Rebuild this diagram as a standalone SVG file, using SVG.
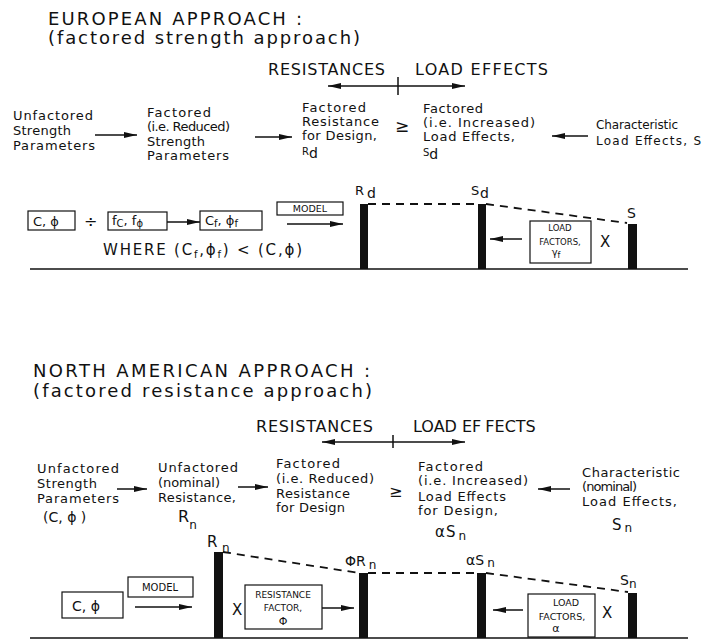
<svg xmlns="http://www.w3.org/2000/svg" width="702" height="640" viewBox="0 0 702 640">
<defs>
<marker id="ah" markerUnits="userSpaceOnUse" markerWidth="13" markerHeight="6" viewBox="0 0 13 6" refX="13" refY="3" orient="auto"><path d="M0,0 L13,3 L0,6 z" fill="#111"/></marker>
<style>
text{font-family:"DejaVu Sans","Liberation Sans",sans-serif;fill:#111}
.t{font-size:13px}
.h{font-size:18px}
.m{font-size:16px}
.s{font-size:8.5px}
.b{font-size:13px}
.ln{stroke:#111;stroke-width:1.5;fill:none}
.ar{stroke:#111;stroke-width:1.5;fill:none;marker-end:url(#ah)}
.bx{stroke:#111;stroke-width:1.2;fill:#fff}
.ds{stroke:#111;stroke-width:1.8;fill:none;stroke-dasharray:8 6}
.bar{fill:#111}
</style>
</defs>
<rect width="702" height="640" fill="#fff"/>

<!-- EUROPEAN -->
<g id="eu-title">
<text class="h" x="48" y="25" textLength="254" lengthAdjust="spacing">EUROPEAN APPROACH :</text>
<text class="h" x="48" y="44" textLength="312" lengthAdjust="spacing">(factored strength approach)</text>
</g>
<g id="eu-axis">
<text class="m" x="268" y="75" textLength="117" lengthAdjust="spacing">RESISTANCES</text>
<text class="m" x="415" y="75" textLength="133" lengthAdjust="spacing">LOAD EFFECTS</text>
</g>
<g id="eu-col1">
<text class="t" x="13" y="120" textLength="80" lengthAdjust="spacing">Unfactored</text>
<text class="t" x="13" y="135" textLength="58" lengthAdjust="spacing">Strength</text>
<text class="t" x="13" y="150" textLength="82" lengthAdjust="spacing">Parameters</text>
</g>
<g id="eu-col2">
<text class="t" x="147" y="117" textLength="64" lengthAdjust="spacing">Factored</text>
<text class="t" x="147" y="131" textLength="83" lengthAdjust="spacing">(i.e. Reduced)</text>
<text class="t" x="147" y="146" textLength="58" lengthAdjust="spacing">Strength</text>
<text class="t" x="147" y="160" textLength="82" lengthAdjust="spacing">Parameters</text>
</g>
<g id="eu-col3">
<text class="t" x="302" y="112" textLength="64" lengthAdjust="spacing">Factored</text>
<text class="t" x="302" y="126" textLength="77" lengthAdjust="spacing">Resistance</text>
<text class="t" x="302" y="140" textLength="75" lengthAdjust="spacing">for Design,</text>
<text x="302" y="155" font-size="10">R<tspan font-size="14" dy="3">d</tspan></text>
</g>
<text id="eu-ge" x="395" y="132" font-size="17">≥</text>
<g id="eu-col4">
<text class="t" x="423" y="113" textLength="60" lengthAdjust="spacing">Factored</text>
<text class="t" x="423" y="127" textLength="112" lengthAdjust="spacing">(i.e. Increased)</text>
<text class="t" x="423" y="141" textLength="92" lengthAdjust="spacing">Load Effects,</text>
<text x="423" y="156" font-size="10">S<tspan font-size="14" dy="3">d</tspan></text>
</g>
<g id="eu-col5">
<text x="596" y="129" font-size="12" textLength="82" lengthAdjust="spacing">Characteristic</text>
<text x="596" y="145" font-size="12" textLength="105" lengthAdjust="spacing">Load Effects, S</text>
</g>

<g id="eu-params">
<rect class="bx" x="28" y="211" width="47" height="19"/>
<text class="b" x="33" y="226">C, ϕ</text>
<text x="84" y="227" font-size="16">÷</text>
<rect class="bx" x="108" y="212" width="59" height="18"/>
<text class="b" x="112" y="225">f<tspan font-size="10" dy="2">C</tspan><tspan dy="-2">, f</tspan><tspan font-size="10" dy="2">ϕ</tspan></text>
<rect class="bx" x="200" y="211" width="62" height="19"/>
<text class="b" x="205" y="225">C<tspan font-size="10" dy="2">f</tspan><tspan dy="-2">, ϕ</tspan><tspan font-size="10" dy="2">f</tspan></text>
<rect class="bx" x="277" y="202" width="66" height="13"/>
<text x="310" y="212" font-size="9.5" text-anchor="middle">MODEL</text>
<text x="103" y="255" font-size="15" textLength="199" lengthAdjust="spacing">WHERE (C<tspan font-size="10" dy="3">f</tspan><tspan dy="-3">,ϕ</tspan><tspan font-size="10" dy="3">f</tspan><tspan dy="-3">) &lt; (C,ϕ)</tspan></text>
</g>
<g id="eu-bars">
<rect class="bar" x="360" y="204" width="8" height="65"/>
<rect class="bar" x="478" y="204" width="8" height="65"/>
<rect class="bar" x="628" y="224" width="9" height="45"/>
<text x="355" y="195" font-size="13">R<tspan font-size="14" x="367" y="198">d</tspan></text>
<text x="471" y="195" font-size="13">S<tspan font-size="14" x="480" y="198">d</tspan></text>
<text x="627" y="218" font-size="14">S</text>
</g>
<g id="eu-loadfactors">
<rect class="bx" x="530" y="221" width="61" height="42"/>
<text class="s" x="560" y="231" text-anchor="middle">LOAD</text>
<text class="s" x="560" y="245" text-anchor="middle">FACTORS,</text>
<text x="556" y="256" font-size="10" text-anchor="middle">γ<tspan font-size="8" dy="2">f</tspan></text>
<text x="600" y="247" font-size="15">X</text>
</g>

<!-- NORTH AMERICAN -->
<g id="na-title">
<text class="h" x="33" y="377" textLength="337" lengthAdjust="spacing">NORTH AMERICAN APPROACH :</text>
<text class="h" x="33" y="397" textLength="339" lengthAdjust="spacing">(factored resistance approach)</text>
</g>
<g id="na-axis">
<text class="m" x="256" y="432" textLength="117" lengthAdjust="spacing">RESISTANCES</text>
<text class="m" x="413" y="432">LOAD EF<tspan dx="4">FECTS</tspan></text>
</g>
<g id="na-col1">
<text class="t" x="37" y="473" textLength="82" lengthAdjust="spacing">Unfactored</text>
<text class="t" x="37" y="488" textLength="60" lengthAdjust="spacing">Strength</text>
<text class="t" x="37" y="503" textLength="82" lengthAdjust="spacing">Parameters</text>
<text x="43" y="522" font-size="14">(C, ϕ )</text>
</g>
<g id="na-col2">
<text class="t" x="158" y="472" textLength="80" lengthAdjust="spacing">Unfactored</text>
<text class="t" x="158" y="487" textLength="62" lengthAdjust="spacing">(nominal)</text>
<text class="t" x="158" y="502" textLength="78" lengthAdjust="spacing">Resistance,</text>
<text x="178" y="522" font-size="16">R<tspan font-size="12" dy="7">n</tspan></text>
</g>
<g id="na-col3">
<text class="t" x="276" y="468" textLength="64" lengthAdjust="spacing">Factored</text>
<text class="t" x="276" y="483" textLength="98" lengthAdjust="spacing">(i.e. Reduced)</text>
<text class="t" x="276" y="498" textLength="74" lengthAdjust="spacing">Resistance</text>
<text class="t" x="276" y="512" textLength="69" lengthAdjust="spacing">for Design</text>
</g>
<text id="na-ge" x="389" y="497" font-size="16">≥</text>
<g id="na-col4">
<text class="t" x="418" y="471" textLength="65" lengthAdjust="spacing">Factored</text>
<text class="t" x="418" y="485" textLength="110" lengthAdjust="spacing">(i.e. Increased)</text>
<text class="t" x="418" y="501" textLength="88" lengthAdjust="spacing">Load Effects</text>
<text class="t" x="418" y="515" textLength="80" lengthAdjust="spacing">for Design,</text>
<text x="435" y="537" font-size="15">α<tspan dx="1">S</tspan><tspan font-size="12" dx="3" dy="3">n</tspan></text>
</g>
<g id="na-col5">
<text class="t" x="582" y="477" textLength="98" lengthAdjust="spacing">Characteristic</text>
<text class="t" x="582" y="491" textLength="55" lengthAdjust="spacing">(nominal)</text>
<text class="t" x="582" y="506" textLength="95" lengthAdjust="spacing">Load Effects,</text>
<text x="612" y="530" font-size="15">S<tspan font-size="12" dx="3" dy="2">n</tspan></text>
</g>

<g id="na-params">
<rect class="bx" x="62" y="592" width="61" height="26"/>
<text x="72" y="611" font-size="14">C, ϕ</text>
<rect class="bx" x="128" y="577" width="65" height="20"/>
<text x="160" y="591" font-size="10" text-anchor="middle">MODEL</text>
</g>
<g id="na-bars">
<rect class="bar" x="214" y="552" width="9" height="86"/>
<rect class="bar" x="359" y="573" width="9" height="65"/>
<rect class="bar" x="477" y="573" width="9" height="65"/>
<rect class="bar" x="628" y="593" width="9" height="45"/>
<text x="207" y="547" font-size="15">R<tspan font-size="12" x="222" dy="5">n</tspan></text>
<text x="345" y="566" font-size="14">ΦR<tspan font-size="12" dx="3" dy="3">n</tspan></text>
<text x="466" y="565" font-size="14">αS<tspan font-size="12" dx="3" dy="2">n</tspan></text>
<text x="620" y="585" font-size="14">S<tspan font-size="12" dy="3">n</tspan></text>
</g>
<g id="na-resfactor">
<text x="232" y="615" font-size="15">X</text>
<rect class="bx" x="245" y="585" width="77" height="44"/>
<text x="283" y="598" font-size="9" text-anchor="middle">RESISTANCE</text>
<text x="283" y="611" font-size="9" text-anchor="middle">FACTOR,</text>
<text x="283" y="625" font-size="11" text-anchor="middle">Φ</text>
</g>
<g id="na-loadfactors">
<rect class="bx" x="528" y="594" width="67" height="43"/>
<text x="566" y="606" font-size="9.5" text-anchor="middle">LOAD</text>
<text x="562" y="620" font-size="9.5" text-anchor="middle">FACTORS,</text>
<text x="556" y="632" font-size="11" text-anchor="middle">α</text>
<text x="602" y="618" font-size="15">X</text>
</g>

<g id="connectors">
<path class="ar" d="M398,86 H328"/>
<path class="ar" d="M398,86 H465"/>
<path class="ln" d="M398,77 V95"/>
<path class="ar" d="M95,135 H137"/>
<path class="ar" d="M255,137 H292"/>
<path class="ar" d="M588,136 H552"/>
<path class="ar" d="M167,222 H200"/>
<path class="ar" d="M287,224 H343"/>
<path class="ar" d="M522,239 H490"/>
<path class="ds" d="M368,204 H478 M486,204 L627,223"/>
<path class="ln" d="M30,269 H688"/>
<path class="ar" d="M393,442 H322"/>
<path class="ar" d="M393,442 H465"/>
<path class="ln" d="M393,435 V448"/>
<path class="ar" d="M117,489 H147"/>
<path class="ar" d="M238,487 H268"/>
<path class="ar" d="M570,489 H538"/>
<path class="ar" d="M135,607 H192"/>
<path class="ar" d="M322,608 H354"/>
<path class="ar" d="M523,610 H493"/>
<path class="ds" d="M223,552 L359,573 M368,573 H477 M486,573 L628,592"/>
<path class="ln" d="M30,638 H688"/>
</g>
</svg>
